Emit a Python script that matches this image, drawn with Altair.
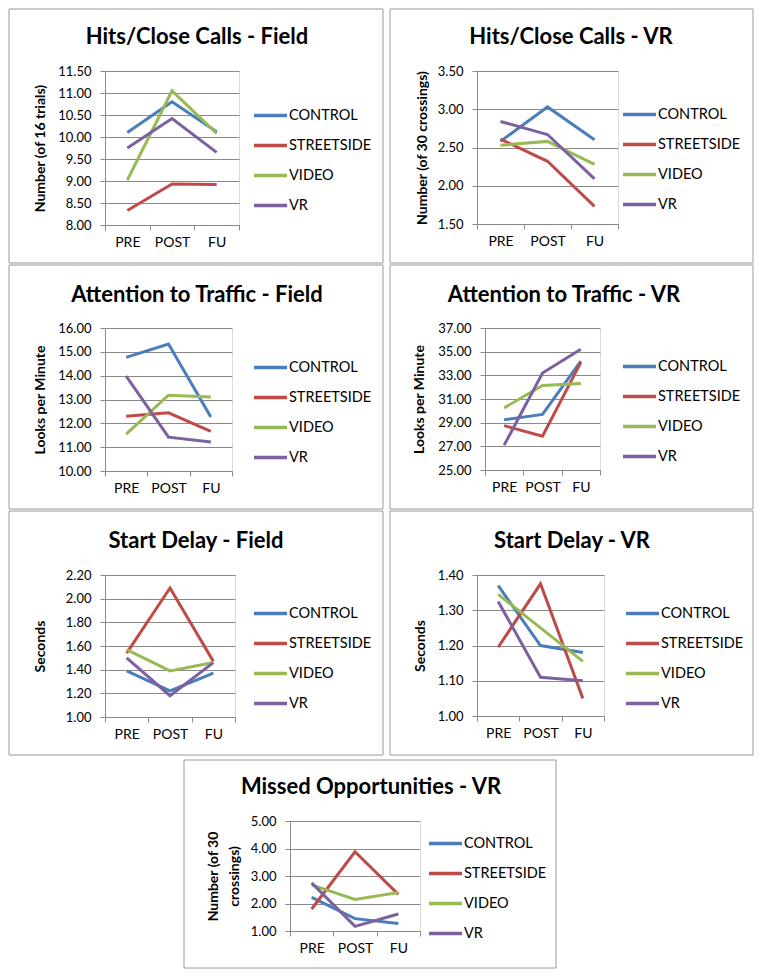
import altair as alt
import pandas as pd

PHASES = ["PRE", "POST", "FU"]
GROUPS = ["CONTROL", "STREETSIDE", "VIDEO", "VR"]
COLORS = ["#4A7EBB", "#BE4B48", "#98B954", "#7D60A0"]

# Hits/Close Calls - Field
HCF_CONTROL = [10.10, 10.80, 10.12]
HCF_STREETSIDE = [8.33, 8.93, 8.92]
HCF_VIDEO = [9.02, 11.05, 10.08]
HCF_VR = [9.75, 10.42, 9.65]
HCF_TICKS = [8.0, 8.5, 9.0, 9.5, 10.0, 10.5, 11.0, 11.5]

# Hits/Close Calls - VR
HCV_CONTROL = [2.58, 3.03, 2.60]
HCV_STREETSIDE = [2.61, 2.32, 1.73]
HCV_VIDEO = [2.53, 2.58, 2.28]
HCV_VR = [2.84, 2.67, 2.09]
HCV_TICKS = [1.5, 2.0, 2.5, 3.0, 3.5]

# Attention to Traffic - Field
ATF_CONTROL = [14.77, 15.33, 12.27]
ATF_STREETSIDE = [12.30, 12.44, 11.66]
ATF_VIDEO = [11.55, 13.18, 13.10]
ATF_VR = [13.98, 11.42, 11.22]
ATF_TICKS = [10.0, 11.0, 12.0, 13.0, 14.0, 15.0, 16.0]

# Attention to Traffic - VR
ATV_CONTROL = [29.25, 29.70, 34.20]
ATV_STREETSIDE = [28.75, 27.85, 34.10]
ATV_VIDEO = [30.25, 32.15, 32.30]
ATV_VR = [27.10, 33.20, 35.20]
ATV_TICKS = [25.0, 27.0, 29.0, 31.0, 33.0, 35.0, 37.0]

# Start Delay - Field
SDF_CONTROL = [1.39, 1.22, 1.37]
SDF_STREETSIDE = [1.54, 2.09, 1.47]
SDF_VIDEO = [1.57, 1.39, 1.46]
SDF_VR = [1.50, 1.18, 1.46]
SDF_TICKS = [1.0, 1.2, 1.4, 1.6, 1.8, 2.0, 2.2]

# Start Delay - VR
SDV_CONTROL = [1.370, 1.200, 1.180]
SDV_STREETSIDE = [1.195, 1.375, 1.050]
SDV_VIDEO = [1.345, 1.250, 1.155]
SDV_VR = [1.325, 1.110, 1.100]
SDV_TICKS = [1.0, 1.1, 1.2, 1.3, 1.4]

# Missed Opportunities - VR
MOV_CONTROL = [2.22, 1.45, 1.27]
MOV_STREETSIDE = [1.80, 3.88, 2.33]
MOV_VIDEO = [2.68, 2.15, 2.40]
MOV_VR = [2.75, 1.17, 1.62]
MOV_TICKS = [1.0, 2.0, 3.0, 4.0, 5.0]

FONT = "Lato"
GRAY = "#8a8a8a"
BOX = "#9a9a9a"
LEG_DY = 18
LEG_DX = -4

PANELS = [
    dict(title="Hits/Close Calls - Field", ytitle="Number (of 16 trials)",
         series=[HCF_CONTROL, HCF_STREETSIDE, HCF_VIDEO, HCF_VR], ticks=HCF_TICKS,
         w=134, h=154, box=(-96, -62, 374, 254), tpos=(92, -27), leg=(151, 44), ytx=-65),
    dict(title="Hits/Close Calls - VR", ytitle="Number (of 30 crossings)",
         series=[HCV_CONTROL, HCV_STREETSIDE, HCV_VIDEO, HCV_VR], ticks=HCV_TICKS,
         w=141, h=153, box=(-87, -62, 363, 254), tpos=(94, -27), leg=(148, 43), ytx=-55),
    dict(title="Attention to Traffic - Field", ytitle="Looks per Minute",
         series=[ATF_CONTROL, ATF_STREETSIDE, ATF_VIDEO, ATF_VR], ticks=ATF_TICKS,
         w=127, h=143, box=(-96, -63, 374, 244), tpos=(92, -26), leg=(151, 39), ytx=-65),
    dict(title="Attention to Traffic - VR", ytitle="Looks per Minute",
         series=[ATV_CONTROL, ATV_STREETSIDE, ATV_VIDEO, ATV_VR], ticks=ATV_TICKS,
         w=115, h=142, box=(-95, -63, 363, 244), tpos=(79, -26), leg=(140, 38), ytx=-66),
    dict(title="Start Delay - Field", ytitle="Seconds",
         series=[SDF_CONTROL, SDF_STREETSIDE, SDF_VIDEO, SDF_VR], ticks=SDF_TICKS,
         w=130, h=142, box=(-96, -64, 374, 244), tpos=(91, -27), leg=(151, 38), ytx=-65),
    dict(title="Start Delay - VR", ytitle="Seconds",
         series=[SDV_CONTROL, SDV_STREETSIDE, SDV_VIDEO, SDV_VR], ticks=SDV_TICKS,
         w=127, h=141, box=(-87, -64, 363, 244), tpos=(95, -27), leg=(151, 38), ytx=-57),
    dict(title="Missed Opportunities - VR", ytitle=["Number (of 30", "crossings)"],
         series=[MOV_CONTROL, MOV_STREETSIDE, MOV_VIDEO, MOV_VR], ticks=MOV_TICKS,
         w=130, h=110, box=(-106, -61, 372, 208), tpos=(81, -27), leg=(141, 22), ytx=-77,
         gap=3),
]

PHASE_JS = "[" + ",".join("'%s'" % p for p in PHASES) + "]"
LABEL_JS = "[" + ",".join("'%s'" % p for p in PHASES) + ",''][datum.value]"


def make_panel(p):
    rows = []
    for g, vals in zip(GROUPS, p["series"]):
        for ph, v in zip(PHASES, vals):
            rows.append({"group": g, "phase": ph, "value": v})
    df = pd.DataFrame(rows)
    w, h = p["w"], p["h"]
    bx, by, bw, bh = p["box"]
    ticks = p["ticks"]

    lines = alt.Chart(df).transform_calculate(
        xpos="indexof(%s, datum.phase) + 0.5" % PHASE_JS
    ).mark_line(strokeWidth=3).encode(
        x=alt.X("xpos:Q", scale=alt.Scale(domain=[0, len(PHASES)], nice=False, zero=False),
                axis=alt.Axis(values=list(range(len(PHASES) + 1)), labelExpr=LABEL_JS,
                              labelOffset=w / 6.0, labelFlush=False, grid=False, title=None,
                              tickSize=5, tickColor=GRAY, domainColor=GRAY, labelPadding=5,
                              labelFont=FONT, labelFontSize=14, labelColor="#000000",
                              labelOverlap=False)),
        y=alt.Y("value:Q", scale=alt.Scale(domain=[ticks[0], ticks[-1]], nice=False, zero=False),
                axis=alt.Axis(values=ticks, format=".2f", grid=True, gridColor=GRAY,
                              tickSize=5, tickColor=GRAY, domainColor=GRAY, labelPadding=9,
                              labelFont=FONT, labelFontSize=13, labelColor="#000000",
                              labelFlush=False, labelOverlap=False,
                              title=p["ytitle"], titleFont=FONT, titleFontSize=14,
                              titleFontWeight="bold", titleColor="#000000",
                              titleX=p["ytx"], titleY=h / 2.0, titleAlign="center",
                              titleBaseline="middle", titleAngle=270, titleLineHeight=21)),
        color=alt.Color("group:N", scale=alt.Scale(domain=GROUPS, range=COLORS),
                        legend=alt.Legend(orient="none", legendX=p["leg"][0] + LEG_DX,
                                          legendY=p["leg"][1] - LEG_DY,
                                          title=None, symbolType="stroke", symbolStrokeWidth=3.5,
                                          symbolSize=1089, labelFont=FONT, labelFontSize=14.5,
                                          labelColor="#000000", rowPadding=4, labelOffset=0,
                                          padding=0, labelLimit=200)),
    )

    title = alt.Chart(pd.DataFrame({"t": [p["title"]]})).mark_text(
        font=FONT, fontSize=22, fontWeight="bold", color="#000000",
        align="center", baseline="alphabetic"
    ).encode(text="t:N", x=alt.value(p["tpos"][0]), y=alt.value(p["tpos"][1]))

    box = alt.Chart(pd.DataFrame({"b": [0]})).mark_rect(
        filled=False, color=BOX, strokeWidth=1
    ).encode(x=alt.value(bx), x2=alt.value(bx + bw), y=alt.value(by), y2=alt.value(by + bh))

    layers = [box, title, lines]
    if "gap" in p:
        pad = alt.Chart(pd.DataFrame({"b": [0]})).mark_rect(
            opacity=0, color="transparent"
        ).encode(x=alt.value(bx), x2=alt.value(bx + 1), y=alt.value(by - p["gap"]), y2=alt.value(by))
        layers = [pad] + layers
    return alt.layer(*layers).properties(width=w, height=h)


panels = [make_panel(p) for p in PANELS]

spacer = alt.Chart(pd.DataFrame({"b": [0]})).mark_rect(
    opacity=0, color="transparent"
).encode(
    x=alt.value(0), x2=alt.value(78), y=alt.value(0), y2=alt.value(1)
).properties(width=78, height=1,
             view=alt.ViewBackground(stroke="transparent", strokeWidth=0, fill="transparent"))


def row(*charts, spacing=5):
    return alt.hconcat(*charts, spacing=spacing).resolve_scale(
        color="independent").resolve_legend(color="independent")


row1 = row(panels[0], panels[1])
row2 = row(panels[2], panels[3])
row3 = row(panels[4], panels[5])
row4 = row(spacer, panels[6], spacing=0)

chart = alt.vconcat(row1, row2, row3, row4, spacing=0, padding=0).resolve_scale(
    color="independent"
).resolve_legend(color="independent").configure_view(
    stroke="transparent", strokeWidth=0
).configure(background="#ffffff")

chart.save("out.html", embed_options={"renderer": "svg", "actions": False})
